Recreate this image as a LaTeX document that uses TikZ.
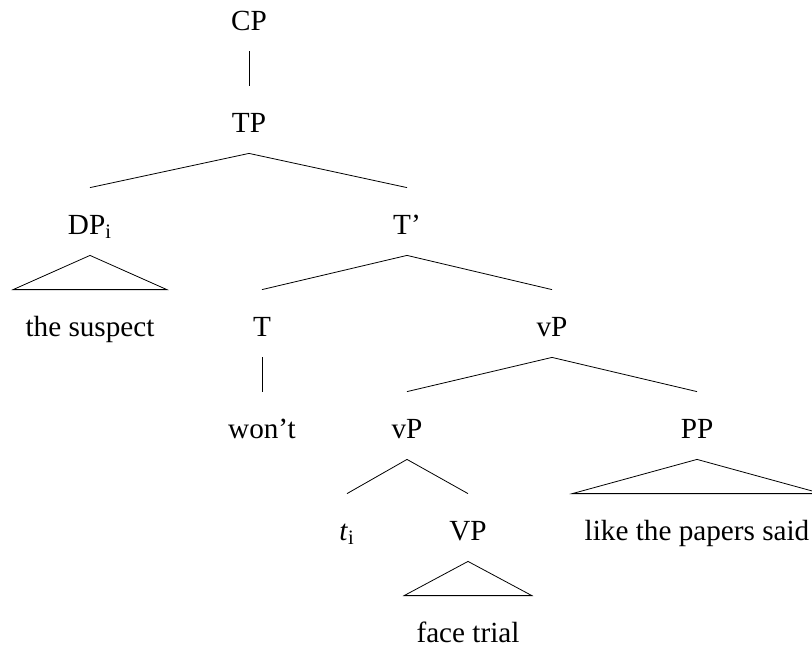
\documentclass[tikz,border=0pt]{standalone}
\usepackage{fontspec}
\setmainfont{Liberation Serif}
\usepackage{tikz}

\begin{document}
\begin{tikzpicture}[x=0.5pt, y=-0.5pt,
  every node/.style={font=\fontsize{14.6}{17}\selectfont, inner ysep=0pt, inner xsep=6pt,
    text height=23pt, text depth=10.5pt, anchor=base}]
  \useasboundingbox (0,0) rectangle (812,649);

  \node (cp) at (249, 30) {CP};
  \node (tp) at (249, 132) {TP};

  \node (dp) at (90, 234) {DP\textsubscript{i}};
  \node (tbar) at (407, 234) {T’};

  \node (suspect) at (90, 336) {the suspect};
  \node (t) at (262, 336) {T};
  \node (vp) at (552, 336) {vP};

  \node (wont) at (262, 438) {won’t};
  \node (vplow) at (407, 438) {vP};
  \node (pp) at (697, 438) {PP};

  \node (trace) at (347, 540) {\textit{t}\textsubscript{i}};
  \node (vpsmall) at (468, 540) {VP};
  \node (papers) at (697, 540) {like the papers said};

  \node (face) at (468, 642) {face trial};

  \draw (cp.south) -- (tp.north);
  \draw (tp.south) -- (dp.north);
  \draw (tp.south) -- (tbar.north);
  \draw (dp.south) -- (suspect.north west) -- (suspect.north east) -- cycle;
  \draw (tbar.south) -- (t.north);
  \draw (tbar.south) -- (vp.north);
  \draw (t.south) -- (wont.north);
  \draw (vp.south) -- (vplow.north);
  \draw (vp.south) -- (pp.north);
  \draw (pp.south) -- (papers.north west) -- (papers.north east) -- cycle;
  \draw (vplow.south) -- (trace.north);
  \draw (vplow.south) -- (vpsmall.north);
  \draw (vpsmall.south) -- (face.north west) -- (face.north east) -- cycle;
\end{tikzpicture}
\end{document}
